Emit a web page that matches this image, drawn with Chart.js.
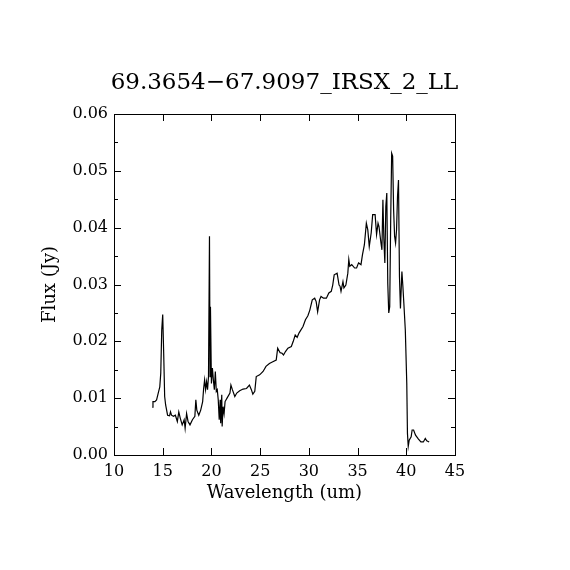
<!DOCTYPE html>
<html>
<head>
<meta charset="utf-8">
<script src="https://cdn.jsdelivr.net/npm/chart.js@4.4.1/dist/chart.umd.min.js"></script>
<style>
  html, body { margin: 0; padding: 0; background: #fff; }
  #wrap { width: 570px; height: 570px; }
</style>
</head>
<body>
<div id="wrap"><canvas id="myChart"></canvas></div>
<script>
// spectrum
const wavelength = [13.92, 14.0, 14.2, 14.37, 14.54, 14.7, 14.8, 14.9, 15.0, 15.1, 15.2, 15.3, 15.5, 15.7, 15.8, 15.9,
  16.1, 16.3, 16.5, 16.65, 16.8, 17.0, 17.2, 17.3, 17.45, 17.6, 17.8, 18.05, 18.3, 18.4, 18.5, 18.7, 18.9,
  19.1, 19.2, 19.3, 19.4, 19.5, 19.6, 19.7, 19.8, 19.86, 19.9, 20.0, 20.1, 20.2, 20.3, 20.4, 20.5, 20.6,
  20.7, 20.8, 20.9, 20.95, 21.06, 21.1, 21.2, 21.3, 21.4, 21.6, 21.9, 22.0, 22.15, 22.4, 22.6, 22.9, 23.25,
  23.6, 23.9, 24.1, 24.25, 24.45, 24.6, 24.95, 25.3, 25.6, 25.95, 26.3, 26.65, 26.8, 27.05, 27.25, 27.4,
  27.6, 27.85, 28.2, 28.4, 28.6, 28.8, 29.0, 29.4, 29.65, 29.9, 30.1, 30.35, 30.6, 30.75, 30.9, 31.1,
  31.25, 31.5, 31.8, 32.05, 32.3, 32.45, 32.6, 32.9, 33.1, 33.2, 33.3, 33.5, 33.6, 33.8, 34.0, 34.1, 34.2,
  34.4, 34.7, 34.9, 35.1, 35.35, 35.5, 35.7, 35.9, 36.05, 36.2, 36.4, 36.55, 36.8, 36.95, 37.1, 37.2,
  37.4, 37.5, 37.6, 37.7, 37.8, 37.9, 38.0, 38.1, 38.2, 38.3, 38.4, 38.5, 38.6, 38.7, 38.8, 38.9, 39.0,
  39.1, 39.2, 39.3, 39.4, 39.55, 39.65, 39.75, 39.9, 40.05, 40.12, 40.2, 40.3, 40.5, 40.6, 40.75, 40.95,
  41.25, 41.5, 41.75, 41.95, 42.1, 42.35];
const flux = [0.0084, 0.0094, 0.0094, 0.0097, 0.0109, 0.0120, 0.0144, 0.0220, 0.0247, 0.0179, 0.0103, 0.0088, 0.0070, 0.0069, 0.0076, 0.0070,
  0.0068, 0.0070, 0.0059, 0.0076, 0.0065, 0.0053, 0.0062, 0.0047, 0.0073, 0.0059, 0.0053, 0.0062, 0.0068, 0.0097, 0.0079, 0.0070, 0.0079,
  0.0094, 0.0117, 0.0132, 0.0115, 0.0129, 0.0115, 0.0138, 0.0385, 0.0138, 0.0261, 0.0126, 0.0153, 0.0132, 0.0115, 0.0147, 0.0112, 0.0115,
  0.0097, 0.0062, 0.0097, 0.0056, 0.0106, 0.0050, 0.0085, 0.0073, 0.0094, 0.0100, 0.0109, 0.0123, 0.0115, 0.0103, 0.0109, 0.0113, 0.0116,
  0.0117, 0.0123, 0.0115, 0.0107, 0.0112, 0.0138, 0.0141, 0.0147, 0.0156, 0.0161, 0.0164, 0.0167, 0.0188, 0.0180, 0.0179, 0.0176,
  0.0182, 0.0188, 0.0191, 0.0200, 0.0211, 0.0207, 0.0215, 0.0226, 0.0238, 0.0245, 0.0255, 0.0273, 0.0276, 0.0270, 0.0252, 0.0273,
  0.0279, 0.0276, 0.0276, 0.0285, 0.0288, 0.0299, 0.0317, 0.0320, 0.0299, 0.0297, 0.0288, 0.0305, 0.0294, 0.0299, 0.0320, 0.0344, 0.0332,
  0.0335, 0.0329, 0.0329, 0.0338, 0.0335, 0.0352, 0.0370, 0.0408, 0.0396, 0.0367, 0.0391, 0.0423, 0.0423, 0.0388, 0.0408, 0.0402,
  0.0373, 0.0361, 0.0449, 0.0379, 0.0338, 0.0437, 0.0461, 0.0302, 0.0250, 0.0261, 0.0414, 0.0531, 0.0526, 0.0431, 0.0385, 0.0373, 0.0396,
  0.0455, 0.0484, 0.0314, 0.0258, 0.0323, 0.0297, 0.0267, 0.0220, 0.0126, 0.0038, 0.0015, 0.0026, 0.0032, 0.0044, 0.0044, 0.0035,
  0.0028, 0.0023, 0.0023, 0.0029, 0.0025, 0.0023];

const xTicks = [10, 15, 20, 25, 30, 35, 40, 45];
const yTicks = [0.00, 0.01, 0.02, 0.03, 0.04, 0.05, 0.06];
const yMinorStep = 0.005;

const titleText = '69.3654\u221267.9097_IRSX_2_LL';
const serif = "'DejaVu Serif', serif";

const points = wavelength.map((w, i) => ({ x: w, y: flux[i] }));

// frame, inward ticks on all four sides, and the title
const framePlugin = {
    id: 'frame',
    afterDraw(chart) {
        const { ctx, chartArea: a, scales: { x, y } } = chart;
        ctx.save();
        ctx.strokeStyle = '#000';
        ctx.lineWidth = 1;
        ctx.strokeRect(a.left + 0.5, a.top + 0.5, a.right - a.left, a.bottom - a.top);
        ctx.beginPath();
        xTicks.forEach(v => {
            const px = Math.round(x.getPixelForValue(v)) + 0.5;
            ctx.moveTo(px, a.bottom); ctx.lineTo(px, a.bottom - 7);
            ctx.moveTo(px, a.top); ctx.lineTo(px, a.top + 7);
        });
        for (let v = yTicks[0]; v <= yTicks[yTicks.length - 1] + 1e-9; v += yMinorStep) {
            const major = yTicks.some(t => Math.abs(t - v) < 1e-9);
            const len = major ? 7 : 4;
            const py = Math.round(y.getPixelForValue(v)) + 0.5;
            ctx.moveTo(a.left, py); ctx.lineTo(a.left + len, py);
            ctx.moveTo(a.right, py); ctx.lineTo(a.right - len, py);
        }
        ctx.stroke();

        ctx.fillStyle = '#000';
        ctx.font = '23px ' + serif;
        ctx.textAlign = 'center';
        ctx.textBaseline = 'alphabetic';
        ctx.fillText(titleText, (a.left + a.right) / 2, 89);
        ctx.restore();
    }
};

var ctx = document.getElementById('myChart').getContext('2d');

var myChart = new Chart(ctx, {
    type: 'scatter',
    data: {
        datasets: [{
            data: points,
            showLine: true,
            borderColor: '#000',
            borderWidth: 1.2,
            pointRadius: 0,
            tension: 0
        }]
    },
    options: {
        responsive: true,
        maintainAspectRatio: false,
        animation: false,
        layout: { padding: { top: 114, right: 115, left: 0, bottom: 0 } },
        plugins: {
            legend: { display: false },
            tooltip: { enabled: false }
        },
        scales: {
            x: {
                type: 'linear',
                min: 10,
                max: 45,
                afterFit: (s) => { s.height = 115; },
                afterBuildTicks: (s) => { s.ticks = xTicks.map(v => ({ value: v })); },
                grid: { display: false, drawTicks: false },
                border: { display: false },
                ticks: {
                    padding: 7,
                    color: '#000',
                    font: { family: serif, size: 16 },
                    callback: (v) => String(v)
                },
                title: {
                    display: true,
                    text: 'Wavelength (um)',
                    color: '#000',
                    font: { family: serif, size: 18 },
                    padding: { top: 0, bottom: 66 }
                }
            },
            y: {
                min: 0,
                max: 0.06,
                afterFit: (s) => { s.width = 114; },
                afterBuildTicks: (s) => { s.ticks = yTicks.map(v => ({ value: v })); },
                grid: { display: false, drawTicks: false },
                border: { display: false },
                ticks: {
                    padding: 6,
                    color: '#000',
                    font: { family: serif, size: 16 },
                    callback: (v) => Number(v).toFixed(2)
                },
                title: {
                    display: true,
                    text: 'Flux (Jy)',
                    color: '#000',
                    font: { family: serif, size: 18 },
                    padding: { top: 40, bottom: 0 }
                }
            }
        }
    },
    plugins: [framePlugin]
});
</script>
</body>
</html>
